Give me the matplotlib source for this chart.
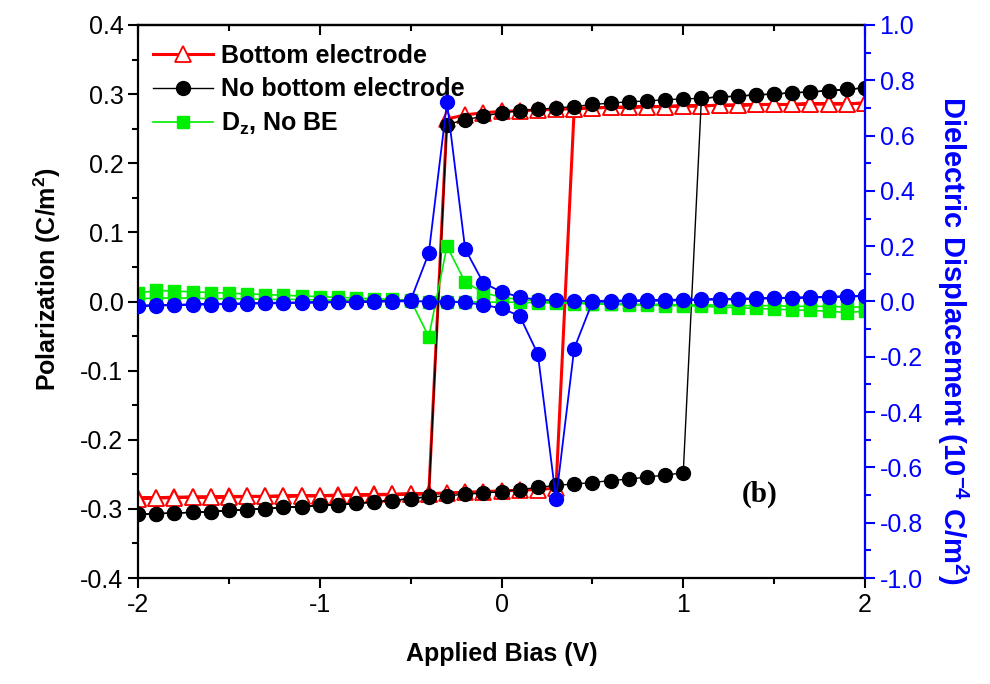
import numpy as np
import matplotlib
matplotlib.use('Agg')
import matplotlib.pyplot as plt
from matplotlib.ticker import MultipleLocator, FormatStrFormatter

plt.rcParams['font.family'] = ['Liberation Sans', 'DejaVu Sans']
plt.rcParams['mathtext.default'] = 'regular'
plt.rcParams['axes.unicode_minus'] = False

# bias sweep: up (-2 -> 2) then down (2 -> -2), 0.1 V steps
bias_up = [round(-2.0 + 0.1 * i, 1) for i in range(41)]
bias_down = bias_up[::-1]

# Bottom electrode polarization (C/m^2)
red_up = [-0.284, -0.284, -0.283, -0.283, -0.283, -0.282, -0.282, -0.282, -0.281, -0.281,
          -0.281, -0.280, -0.280, -0.279, -0.279, -0.278, -0.278, -0.277, -0.276, -0.275,
          -0.274, -0.273, -0.272, -0.270,
          0.279, 0.280, 0.281, 0.281, 0.282, 0.282, 0.283, 0.283, 0.284, 0.284,
          0.285, 0.285, 0.285, 0.286, 0.286, 0.286, 0.287]
red_down = [0.287, 0.286, 0.286, 0.286, 0.285, 0.285, 0.285, 0.284, 0.284, 0.283,
            0.283, 0.282, 0.282, 0.281, 0.281, 0.280, 0.279, 0.278, 0.277, 0.276,
            0.275, 0.273, 0.270, 0.264,
            -0.278, -0.279, -0.279, -0.280, -0.280, -0.281, -0.281, -0.281, -0.282, -0.282,
            -0.282, -0.283, -0.283, -0.283, -0.284, -0.284, -0.285]

# No bottom electrode polarization (C/m^2)
black_up = [-0.308, -0.307, -0.306, -0.305, -0.304, -0.302, -0.301, -0.300, -0.298, -0.297,
            -0.295, -0.294, -0.292, -0.290, -0.288, -0.285, -0.283, -0.281, -0.279, -0.277,
            -0.275, -0.272, -0.269, -0.266, -0.264, -0.262, -0.259, -0.257, -0.254, -0.251,
            -0.248,
            0.294, 0.296, 0.297, 0.299, 0.300, 0.302, 0.303, 0.305, 0.307, 0.309]
black_down = [0.309, 0.307, 0.305, 0.303, 0.302, 0.300, 0.299, 0.297, 0.296, 0.294,
              0.293, 0.292, 0.290, 0.289, 0.287, 0.285, 0.282, 0.280, 0.278, 0.276,
              0.273, 0.268, 0.263, 0.256,
              -0.282, -0.285, -0.288, -0.290, -0.292, -0.294, -0.295, -0.297, -0.298, -0.300,
              -0.301, -0.302, -0.304, -0.305, -0.306, -0.307, -0.308]

# Dz, no bottom electrode (left axis)
green_up = [0.004, 0.005, 0.005, 0.005, 0.004, 0.004, 0.004, 0.003, 0.003, 0.003,
            0.002, 0.002, 0.002, 0.001, 0.001, 0.001, 0.000, 0.000, 0.000, -0.001,
            -0.001, -0.001, -0.002, -0.002, -0.003, -0.003, -0.003, -0.004, -0.004, -0.004,
            -0.005, -0.005, -0.005, -0.006, -0.006, -0.006, -0.007, -0.007, -0.007, -0.008,
            -0.008]
green_down = [-0.014, -0.016, -0.014, -0.013, -0.012, -0.011, -0.010, -0.009, -0.008, -0.007,
              -0.006, -0.006, -0.005, -0.005, -0.004, -0.003, -0.002, -0.001, 0.001, 0.003,
              0.006, 0.013, 0.028, 0.080, -0.051, 0.002, 0.003, 0.004, 0.005, 0.006,
              0.007, 0.008, 0.009, 0.010, 0.011, 0.012, 0.013, 0.014, 0.015, 0.016,
              0.012]

# dielectric displacement (right axis, 1e-4 C/m^2)
blue_up = [-0.016, -0.015, -0.013, -0.012, -0.011, -0.009, -0.008, -0.007, -0.006, -0.005,
           -0.004, -0.003, -0.002, -0.001, 0.000, 0.001, 0.000, -0.001, -0.003, -0.012,
           -0.025, -0.052, -0.190, -0.715, -0.170, -0.002, 0.000, 0.001, 0.002, 0.003,
           0.004, 0.006, 0.007, 0.008, 0.010, 0.011, 0.013, 0.014, 0.016, 0.018,
           0.019]
blue_down = [0.020, 0.019, 0.017, 0.016, 0.014, 0.013, 0.012, 0.010, 0.009, 0.008,
             0.007, 0.006, 0.005, 0.004, 0.003, 0.002, 0.002, 0.004, 0.006, 0.016,
             0.035, 0.067, 0.190, 0.720, 0.175, 0.004, 0.002, 0.001, 0.000, -0.001,
             -0.002, -0.003, -0.004, -0.005, -0.006, -0.008, -0.009, -0.010, -0.012, -0.013,
             -0.015]

x_all = bias_up + bias_down

fig = plt.figure(figsize=(9.9, 6.84), dpi=100)
ax = fig.add_axes([138 / 990, 1 - 578 / 684, 727 / 990, 553 / 684])

ax.plot(x_all, red_up + red_down, color='red', lw=2.2, marker='^', ms=11,
        mfc='white', mec='red', mew=1.3, label='Bottom electrode')
ax.plot(x_all, black_up + black_down, color='black', lw=1.0, marker='o', ms=10,
        mfc='black', mec='black', label='No bottom electrode')
ax.plot(x_all, green_up + green_down, color='#00ee00', lw=1.2, marker='s', ms=8,
        mfc='#00ee00', mec='#00ee00', label=r'D$_{z}$, No BE')

ax.set_xlim(-2, 2)
ax.set_ylim(-0.4, 0.4)
ax.xaxis.set_major_locator(MultipleLocator(1))
ax.xaxis.set_minor_locator(MultipleLocator(0.5))
ax.yaxis.set_major_locator(MultipleLocator(0.1))
ax.yaxis.set_minor_locator(MultipleLocator(0.05))
ax.yaxis.set_major_formatter(FormatStrFormatter('%.1f'))
ax.tick_params(which='both', direction='out', width=1.5, labelsize=18, right=False)
ax.tick_params(which='major', length=7)
ax.tick_params(which='minor', length=4)
for s in ['left', 'bottom', 'top']:
    ax.spines[s].set_linewidth(1.6)
ax.spines['right'].set_visible(False)

top = ax.secondary_xaxis('top')
top.xaxis.set_major_locator(MultipleLocator(1))
top.xaxis.set_minor_locator(MultipleLocator(0.5))
top.tick_params(which='both', direction='in', width=1.5, labeltop=False)
top.tick_params(which='major', length=7)
top.tick_params(which='minor', length=4)
top.spines['top'].set_linewidth(1.6)

ax.set_xlabel('Applied Bias (V)', fontsize=18, fontweight='bold', labelpad=18)
ax.set_ylabel('Polarization (C/m$^2$)', fontsize=18, fontweight='bold', labelpad=12)
ax.yaxis.label.set_y(0.54)

leg = ax.legend(loc='upper left', bbox_to_anchor=(-0.005, 1.0), frameon=False,
                prop={'size': 18, 'weight': 'bold'}, handlelength=2.4,
                handletextpad=0.3, labelspacing=0.38, borderaxespad=0.35)

ax.text(0.855, 0.152, '(b)', transform=ax.transAxes, fontsize=21, fontweight='bold',
        family='Liberation Serif', ha='center', va='center')

ax2 = ax.twinx()
ax2.plot(x_all, blue_up + blue_down, color='blue', lw=1.3, marker='o', ms=10,
         mfc='blue', mec='blue')
ax2.set_ylim(-1.0, 1.0)
ax2.yaxis.set_major_locator(MultipleLocator(0.2))
ax2.yaxis.set_minor_locator(MultipleLocator(0.1))
ax2.yaxis.set_major_formatter(FormatStrFormatter('%.1f'))
ax2.tick_params(which='both', direction='out', width=1.5, colors='blue', labelsize=18)
ax2.tick_params(which='major', length=7)
ax2.tick_params(which='minor', length=4)
ax2.spines['right'].set_color('blue')
ax2.spines['right'].set_linewidth(1.6)
ax2.spines['left'].set_visible(False)
ax2.spines['top'].set_visible(False)
ax2.spines['bottom'].set_visible(False)
ax2.set_ylabel('Dielectric Displacement (10$^{-4}$ C/m$^2$)', fontsize=21,
               fontweight='bold', color='blue', rotation=270, labelpad=34)
ax2.yaxis.label.set_y(0.43)

fig.savefig('out.png', dpi=100)
